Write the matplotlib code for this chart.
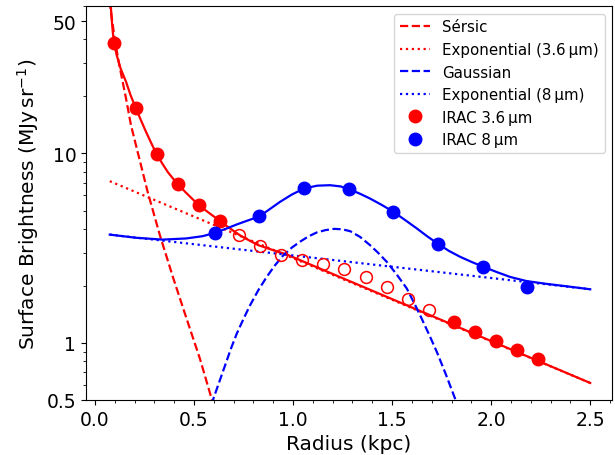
import numpy as np
import matplotlib
matplotlib.use("Agg")
import matplotlib.pyplot as plt
from matplotlib.ticker import FixedLocator, LogLocator, NullFormatter, MultipleLocator

# ---- data ----
# IRAC 3.6 um profile (filled = fitted, open = excluded)
irac36_x = [0.096, 0.206, 0.312, 0.418, 0.525, 0.633]
irac36_y = [38.4, 17.4, 9.88, 6.89, 5.33, 4.39]
irac36_open_x = [0.727, 0.833, 0.939, 1.047, 1.153, 1.259, 1.367, 1.475, 1.581, 1.687]
irac36_open_y = [3.73, 3.24, 2.90, 2.74, 2.60, 2.45, 2.24, 1.98, 1.71, 1.49]
irac36_tail_x = [1.810, 1.916, 2.022, 2.130, 2.236]
irac36_tail_y = [1.29, 1.14, 1.03, 0.922, 0.819]

# IRAC 8 um profile
irac8_x = [0.605, 0.830, 1.057, 1.281, 1.507, 1.731, 1.958, 2.183]
irac8_y = [3.81, 4.65, 6.54, 6.48, 4.92, 3.34, 2.53, 1.97]

# model components
sersic_x = [0.074, 0.0775, 0.100, 0.123, 0.157, 0.182, 0.224, 0.266, 0.328, 0.396,
            0.463, 0.530, 0.589, 0.65]
sersic_y = [64.0, 59.6, 40.0, 29.3, 19.5, 14.1, 9.41, 6.28, 3.70, 2.19,
            1.34, 0.826, 0.508, 0.31]

exp36_x = [0.075, 2.5]
exp36_y = [7.14, 0.615]

gauss_x = [0.55, 0.598, 0.627, 0.657, 0.686, 0.716, 0.750, 0.783, 0.825, 0.867,
           0.909, 0.951, 0.993, 1.035, 1.078, 1.120, 1.164, 1.208, 1.248, 1.288,
           1.338, 1.389, 1.431, 1.473, 1.523, 1.574, 1.612, 1.650, 1.688, 1.726,
           1.772, 1.818, 1.87]
gauss_y = [0.36, 0.508, 0.62, 0.761, 0.93, 1.12, 1.34, 1.58, 1.90, 2.23,
           2.57, 2.90, 3.18, 3.42, 3.65, 3.83, 3.94, 4.00, 3.98, 3.89,
           3.63, 3.28, 2.98, 2.68, 2.30, 1.94, 1.62, 1.34, 1.10, 0.896,
           0.68, 0.508, 0.36]

exp8_x = [0.075, 2.5]
exp8_y = [3.73, 1.92]

# total model curves
total36_x = [0.075, 0.078, 0.084, 0.090, 0.096, 0.110, 0.130, 0.157, 0.180, 0.206,
             0.232, 0.258, 0.285, 0.312, 0.340, 0.367, 0.392, 0.418, 0.455, 0.490,
             0.525, 0.580, 0.633, 0.682, 0.732, 0.780, 0.825, 0.895, 0.968, 2.5]
total36_y = [75.0, 66.0, 52.0, 44.0, 38.4, 33.0, 28.0, 23.9, 20.3, 17.4,
             15.0, 13.0, 11.3, 9.88, 8.85, 8.0, 7.42, 6.89, 6.28, 5.78,
             5.33, 4.82, 4.39, 4.02, 3.70, 3.47, 3.28, 3.10, 2.93, 0.615]

total8_x = [0.075, 0.207, 0.342, 0.460, 0.544, 0.605, 0.660, 0.716, 0.772, 0.830,
            0.882, 0.934, 0.995, 1.057, 1.122, 1.187, 1.240, 1.281, 1.335, 1.389,
            1.448, 1.507, 1.566, 1.625, 1.678, 1.731, 1.787, 1.843, 1.900, 1.958,
            2.027, 2.096, 2.180, 2.280, 2.382, 2.5]
total8_y = [3.73, 3.59, 3.51, 3.56, 3.66, 3.81, 4.00, 4.22, 4.43, 4.65,
            5.08, 5.55, 6.08, 6.54, 6.76, 6.80, 6.70, 6.48, 6.15, 5.78,
            5.35, 4.92, 4.45, 4.02, 3.65, 3.34, 3.06, 2.85, 2.68, 2.53,
            2.37, 2.23, 2.12, 2.05, 1.99, 1.92]

y_ticks = [0.5, 1, 10, 50]
y_ticklabels = ["0.5", "1", "10", "50"]
x_ticks = [0.0, 0.5, 1.0, 1.5, 2.0, 2.5]

# ---- figure ----
fig = plt.figure(figsize=(6.15, 4.56), dpi=100)
ax = fig.add_axes([86 / 615, (456 - 401) / 456, (612 - 86) / 615, (401 - 7) / 456])

lw = 1.6
ax.plot(total36_x, total36_y, color="red", lw=lw)
ax.plot(sersic_x, sersic_y, color="red", ls="--", lw=lw, label="Sérsic")
ax.plot(exp36_x, exp36_y, color="red", ls=":", lw=lw, label="Exponential (3.6\u2009µm)")
ax.plot(total8_x, total8_y, color="blue", lw=lw)
ax.plot(gauss_x, gauss_y, color="blue", ls="--", lw=lw, label="Gaussian")
ax.plot(exp8_x, exp8_y, color="blue", ls=":", lw=lw, label="Exponential (8\u2009µm)")

ms = 9
ax.plot(irac36_x + irac36_tail_x, irac36_y + irac36_tail_y, "o", color="red", ms=ms,
        ls="none", label="IRAC 3.6\u2009µm", zorder=3)
ax.plot(irac36_open_x, irac36_open_y, "o", mfc="none", mec="red", mew=1.1, ms=ms - 0.5,
        ls="none", zorder=3)
ax.plot(irac8_x, irac8_y, "o", color="blue", ms=ms, ls="none", label="IRAC 8\u2009µm", zorder=3)

ax.set_yscale("log")
ax.set_xlim(-0.045, 2.61)
ax.set_ylim(0.5, 60)

ax.yaxis.set_major_locator(FixedLocator(y_ticks))
ax.set_yticklabels(y_ticklabels)
ax.yaxis.set_minor_locator(LogLocator(base=10, subs=np.arange(2, 10)))
ax.yaxis.set_minor_formatter(NullFormatter())
ax.set_xticks(x_ticks)
ax.set_xticklabels([f"{v:.1f}" for v in x_ticks])
ax.xaxis.set_minor_locator(MultipleLocator(0.1))

ax.tick_params(axis="both", which="major", labelsize=13.5)
ax.set_xlabel("Radius (kpc)", fontsize=14.5)
ax.set_ylabel(r"Surface Brightness (MJy$\,$sr$^{-1}$)", fontsize=14.5)

ax.legend(loc="upper right", fontsize=10.8)

fig.savefig("out.png", dpi=100)
